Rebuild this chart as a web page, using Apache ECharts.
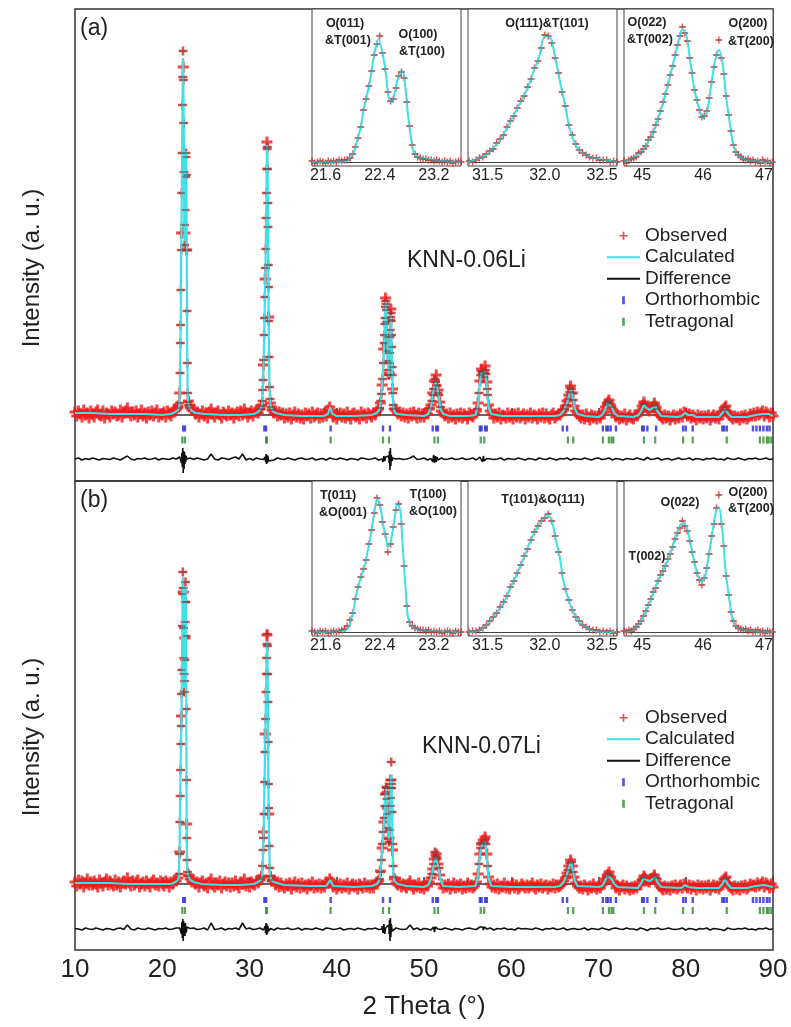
<!DOCTYPE html>
<html><head><meta charset="utf-8">
<script src="https://cdn.jsdelivr.net/npm/echarts@6/dist/echarts.min.js"></script>
<style>html,body{margin:0;padding:0;background:#fff}#c{width:791px;height:1027px}</style>
</head><body><div id="c"></div>
<script>
// ================= DATA =================
const xTickValues = [10,20,30,40,50,60,70,80,90];
// observed scan: regular 2theta grid (start, step) + extra read points on strong peaks
const OBS_START = 10, OBS_STEP = 0.2;
const obsA = [
3,-1,4,1,-2,5,0,2,-3,4, 1,-2,3,5,0,-1,4,-3,2,1, -2,4,1,3,-1,0,5,-2,2,4, 7,2,-1,3,0,4,-2,1,5,-1,
2,-3,3,0,4,-1,2,5,-2,1, 0,3,-2,4,1,-1,3,6,5,9, 22,182,348,182,165,14,9,5,6,1, 3,-2,1,4,-1,2,-3,3,6,1,
-2,2,4,0,-3,3,1,-1,4,0, 2,-3,1,3,-1,4,0,6,2,-2, 1,4,-1,3,5,2,6,10,50,136, 273,98,12,5,2,4,-1,3,0,2,
-3,1,-2,2,-4,0,3,-2,1,-3, 0,-4,2,-1,1,-3,3,-2,0,2, -3,1,-2,2,-1,5,8,4,-2,1, -4,0,2,-2,1,-3,3,-1,-4,1,
2,-2,0,-4,3,-1,1,-3,2,0, -2,2,0,4,6,12,30,66,117,70, 42,106,26,6,4,1,3,-1,2,-2, 1,-3,2,-1,3,0,-3,2,-2,1,
-2,2,1,6,10,22,34,40,25,13, 4,2,-1,1,-3,2,-2,0,-4,1, -2,2,-3,1,-1,-4,2,0,-2,1, 4,12,34,46,42,49,33,10,4,1,
-3,1,-2,2,-4,0,-1,-3,2,-2, 0,-4,1,-2,2,-3,-1,1,-4,0, -2,2,-3,0,-1,-4,1,-2,2,-3, 1,-2,-4,0,2,-3,-1,1,0,3,
5,9,14,20,29,22,9,4,2,-1, -3,0,-4,1,-2,-5,0,-3,-1,-4, -1,-3,1,3,8,12,15,10,6,3, -2,0,-4,-1,-3,1,-5,-2,0,-3,
-4,0,-1,2,4,9,13,8,6,4, 7,8,12,8,3,0,-2,-4,0,-3, -1,-5,-2,0,-4,-1,-3,1,-2,3, 2,-1,1,-3,0,-2,-5,0,-3,-1,
-4,-1,-3,0,-5,-2,0,-3,-1,-4, 0,3,7,9,3,0,-2,-4,-1,-3, -2,-5,-1,-3,0,-4,-2,1,-1,2, -1,3,0,2,4,-1,3,1,-2,2,
-1];
const obsPeaksA = [
[21.9,7],[21.96,12],[22.04,42],[22.08,72],[22.1,90],[22.14,125],[22.18,165],[22.24,222],[22.28,262],[22.32,310],[22.36,338],[22.38,364],[22.42,335],[22.46,292],[22.5,243],[22.54,190],[22.56,170],[22.62,205],[22.66,238],[22.7,258],[22.72,262],[22.76,240],[22.8,165],[22.84,104],[22.88,52],[22.92,22],[22.96,13],[23.04,10],[23.1,7],
[31.3,6],[31.36,9],[31.46,14],[31.52,25],[31.56,35],[31.62,55],[31.68,80],[31.72,97],[31.76,118],[31.82,147],[31.86,166],[31.9,197],[31.94,222],[31.97,246],[32.02,266],[32.04,268],[32.07,246],[32.1,212],[32.12,188],[32.15,150],[32.17,128],[32.2,94],[32.24,58],[32.3,28],[32.36,16],[32.46,8],[32.56,5],
[44.9,7],[45.04,14],[45.12,21],[45.24,36],[45.34,52],[45.44,72],[45.48,80],[45.52,91],[45.54,97],[45.58,108],[45.62,114],[45.66,111],[45.7,105],[45.74,93],[45.78,78],[45.82,64],[45.86,54],[45.9,45],[45.94,40],[45.98,40],[46.04,52],[46.06,62],[46.1,78],[46.12,85],[46.16,95],[46.18,98],[46.22,102],[46.24,94],[46.28,80],[46.3,68],[46.34,48],[46.36,40],[46.42,22],[46.48,10],[46.56,6],
[50.7,7],[50.9,14],[51.05,20],[51.1,26],[51.25,36],[51.3,33],[51.45,30],[51.5,29],[51.6,22],[51.7,20],[51.9,8],
[56.1,6],[56.3,22],[56.5,40],[56.55,44],[56.7,43],[56.85,38],[56.9,42],[57.05,45],[57.1,41],[57.25,26],[57.3,20],
[66.1,6],[66.3,10],[66.5,16],[66.7,23],[66.75,27],[66.9,26],[66.95,22],[67.1,15],
[70.9,10],[71.1,13],[71.15,14],[71.3,12],[71.5,8],[75.1,11],[75.3,11],[76.3,9],[76.5,10],[76.7,6],[84.3,5],[84.5,8],[84.7,5]];
const calcA = [
[10,2],[12,2],[14,1],[16,1],[18,1],[20,0],[21,1],[21.5,3],[21.8,5],[21.95,9],[22.02,29],[22.07,64],[22.12,102],[22.16,151],[22.22,200],[22.27,252],[22.31,302],[22.38,357],[22.44,316],[22.49,258],[22.53,188],[22.58,174],[22.64,218],[22.68,250],[22.74,264],[22.78,215],[22.81,151],[22.86,73],[22.9,29],[22.96,14],[23.1,8],[23.4,4],[23.8,2],[25,1],[27,0],[29,0],[30.5,1],[31.0,3],[31.34,7],[31.44,12],[31.5,20],[31.55,32],[31.61,50],[31.67,74],[31.73,103],[31.79,130],[31.85,160],[31.9,195],[31.95,228],[32.0,270],[32.05,265],[32.09,225],[32.13,176],[32.18,118],[32.22,70],[32.28,34],[32.34,18],[32.43,9],[32.63,4],[33,2],[34,0],[36,-1],[38.5,-1],[39.0,1],[39.25,8],[39.5,1],[40,-1],[42,-1],[44,0],[44.6,2],[44.85,5],[44.96,9],[45.07,16],[45.18,27],[45.29,43],[45.4,63],[45.5,85],[45.56,102],[45.62,113],[45.7,106],[45.76,86],[45.83,62],[45.9,44],[45.95,38],[46.02,45],[46.08,70],[46.15,93],[46.2,100],[46.26,88],[46.32,57],[46.38,33],[46.44,16],[46.52,6],[46.7,2],[47,1],[48,0],[50,-1],[50.5,1],[50.8,8],[51.0,20],[51.2,30],[51.35,33],[51.5,28],[51.7,18],[51.9,6],[52.2,1],[53,-1],[55,-1],[55.9,0],[56.2,10],[56.4,32],[56.6,42],[56.8,40],[57.0,43],[57.2,30],[57.4,8],[57.7,1],[59,-1],[62,-1],[65,-1],[65.6,0],[66.0,4],[66.4,12],[66.7,22],[66.85,25],[67.0,20],[67.3,6],[67.6,1],[68.5,-1],[70,-2],[70.4,0],[70.7,4],[71.0,11],[71.2,12],[71.5,8],[71.8,2],[72.2,-1],[74,-2],[74.6,0],[74.9,4],[75.2,10],[75.5,7],[75.9,5],[76.2,7],[76.5,9],[76.8,3],[77.2,-1],[79,-2],[79.5,-1],[79.9,2],[80.3,0],[80.8,0],[81.2,-2],[83.8,-2],[84.2,2],[84.5,6],[84.8,2],[85.2,-2],[87,-2],[88,0],[88.8,1],[89.5,1],[90,-1]];
const DIFF_START = 10, DIFF_STEP = 0.4;
const diffA = [
0,1,-1,0.5,-0.5,1,0,-1,0.5,0, -0.5,1,0,-1,1,3,0,-1,0.5,0, 1,-0.5,0,1,-1,0.5,0,-0.5,1,0, 2,-1,0,1,-0.5,1,0,-1,0,5,
0,-1,1,0.5,-0.5,1,2,0,5,-1, 0.5,-1,1,0,-0.5,1,0,-1,1,0, -0.5,1,0,-1,0.5,1,-0.5,0,1,-1, 0,0.5,-1,1,0,-0.5,1,0,-1,0.5,
0,-1,1,0.5,-0.5,0,1,-1,0,2, -1,1,0,0.5,-0.5,0,1,3,-0.5,0, 1,-1,0.5,0,-1,1,-0.5,0,1,-0.5, 0,1,-0.5,0,1,-1,2,-1,0.5,0,
-0.5,0,1,-1,0.5,0,-0.5,1,0,-1, 0.5,0,-1,1,0,-0.5,1,0,-1,0.5, 0,1,-1,0.5,0,-0.5,1,0,-1,0.5, 1,-0.5,0,1,-1,0.5,0,-1,0.5,0,
-0.5,1,0,-1,1.5,-0.5,0,1,-1,0, 0.5,-1,0,1,-0.5,0,1,-1,0.5,0, -1,0.5,0,1,-0.5,0,-1,1,0,-0.5, 1,0,-1,0.5,0,1,-0.5,0,1,-0.5,
0];
const diffSpikesA = [
[22.1,2],[22.2,-4],[22.25,6],[22.3,-8],[22.35,11],[22.4,-14],[22.45,8],[22.5,-10],[22.55,7],[22.6,-5],[22.65,4],[22.7,-3],[22.75,3],[22.85,-2],
[31.8,2],[31.85,-3],[31.9,5],[31.95,-5],[32.0,4],[32.05,-4],[32.1,3],[32.2,-2],
[45.2,2],[45.3,-3],[45.4,3],[45.5,-2],[45.95,3],[46.0,-4],[46.05,8],[46.1,-11],[46.15,11],[46.2,-7],[46.25,4],[46.35,-2],
[50.9,2],[51.0,-3],[51.1,4],[51.2,-4],[51.3,3],[51.4,-3],[51.5,2],[56.6,2],[56.7,-3],[56.8,3],[56.9,-2]];

const obsB = [
2,-2,4,0,3,-3,1,5,-1,2, -1,3,0,-3,4,1,-2,2,5,-1, 3,0,-2,4,-1,2,-3,1,3,0, 6,1,-2,3,-1,2,4,-3,0,2,
-2,3,0,-3,2,4,-1,1,-2,3, 0,-2,3,1,-3,2,0,4,3,6, 32,168,292,246,60,9,5,2,4,0, 2,-3,1,3,-2,0,-4,2,5,-1,
-3,1,-1,3,-4,0,2,-2,1,-3, 1,-2,3,-1,-4,2,0,5,-2,1, -3,2,0,-1,3,1,4,8,52,150, 249,70,7,3,4,-1,2,-3,1,-2,
-4,0,-2,1,-5,-1,2,-3,0,-4, 1,-3,-1,-5,0,-2,2,-4,-1,-3, 0,-4,-1,-3,2,1,5,2,-3,-1, -5,-2,0,-4,-1,-3,1,-5,-2,0,
-3,-1,-5,0,-2,-4,1,-3,-1,-4, -1,-4,0,2,3,13,36,62,90,76, 46,104,34,5,1,-1,2,-3,0,-2, -4,0,3,-2,-5,-1,-3,1,-4,-2,
-5,-1,-2,2,6,15,25,30,20,9, 0,-4,-1,-3,0,-5,-2,1,-4,-1, -3,0,-5,-2,-4,1,-3,-1,-4,-2, 2,10,30,40,44,47,30,7,0,-3,
-1,-4,0,-5,-2,-3,1,-4,-2,-5, -2,0,-4,-1,-5,-3,0,-2,-4,-1, -4,-2,1,-3,-5,-1,-3,0,-4,-2, -1,-5,-2,-3,0,-4,-1,-3,-2,0,
3,6,11,18,24,18,7,1,-2,-4, -2,-5,-1,-3,-6,-2,-4,0,-3,-5, -2,-4,-1,1,5,9,12,7,3,1, -4,-2,-6,-3,-1,-5,-2,-4,-6,-3,
-5,-2,-4,0,-1,4,8,5,3,2, 5,6,9,5,1,-2,-4,-6,-2,-5, -3,-6,-2,-4,-1,-5,-3,-1,-4,0, -2,-4,-1,-5,-2,-3,-6,-1,-4,-2,
-5,-2,-4,-1,-6,-3,-1,-4,-2,-5, -2,1,5,7,1,-2,-4,-6,-2,-5, -3,-6,-2,-4,-1,-5,-3,0,-2,-1, -3,1,-2,0,2,-3,1,-1,-4,0,
-3];
const obsPeaksB = [
[21.92,10],[21.98,30],[22.02,62],[22.06,88],[22.1,114],[22.14,140],[22.18,158],[22.22,190],[22.26,214],[22.3,258],[22.34,290],[22.36,312],[22.4,296],[22.44,256],[22.48,226],[22.5,210],[22.52,192],[22.54,203],[22.58,224],[22.62,262],[22.64,282],[22.66,302],[22.7,282],[22.72,248],[22.75,175],[22.78,104],[22.81,46],[22.84,24],[22.9,12],[22.98,8],
[31.3,5],[31.4,7],[31.5,18],[31.56,34],[31.6,46],[31.66,70],[31.72,102],[31.78,132],[31.84,165],[31.88,192],[31.92,210],[31.96,226],[32.0,240],[32.03,250],[32.05,238],[32.08,210],[32.1,182],[32.14,142],[32.17,100],[32.2,76],[32.26,38],[32.32,16],[32.4,8],[32.5,4],
[44.9,5],[45.02,12],[45.12,24],[45.22,40],[45.32,52],[45.44,66],[45.52,78],[45.6,90],[45.64,97],[45.68,92],[45.7,96],[45.76,85],[45.82,70],[45.88,56],[45.94,45],[46.0,42],[46.06,54],[46.12,78],[46.14,86],[46.18,96],[46.2,104],[46.24,122],[46.28,100],[46.3,96],[46.34,72],[46.4,40],[46.46,18],[46.52,7],
[50.9,10],[51.1,20],[51.25,32],[51.3,28],[51.45,27],[51.5,25],[51.7,16],[56.3,20],[56.5,36],[56.55,41],[56.7,40],[56.9,42],[57.05,45],[57.1,40],[57.3,18],
[66.3,8],[66.5,14],[66.7,21],[66.9,22],[67.1,12],[70.9,7],[71.1,10],[71.3,9],[75.1,6],[75.3,7],[76.4,8],[76.6,6],[84.4,5],[84.6,6]];
const calcB = [
[10,1],[12,1],[14,1],[16,0],[18,0],[20,0],[21,0],[21.5,2],[21.8,4],[21.9,7],[21.996,39],[22.045,81],[22.09,109],[22.14,136],[22.19,159],[22.22,185],[22.26,217],[22.29,247],[22.32,275],[22.36,307],[22.41,289],[22.45,247],[22.49,219],[22.52,196],[22.56,208],[22.61,252],[22.66,298],[22.71,275],[22.73,219],[22.77,127],[22.8,58],[22.82,32],[22.86,16],[22.93,9],[23.2,4],[23.6,2],[24.5,0],[27,-1],[29,-1],[30.5,0],[31.0,2],[31.3,4],[31.44,7],[31.55,31],[31.64,60],[31.7,92],[31.76,122],[31.82,155],[31.87,186],[31.93,215],[31.98,232],[32.02,243],[32.06,232],[32.09,197],[32.13,155],[32.16,108],[32.19,81],[32.24,46],[32.3,21],[32.37,9],[32.48,4],[32.8,2],[34,-1],[37,-2],[38.8,-2],[39.25,4],[39.6,-2],[42,-3],[44,-2],[44.6,0],[44.85,3],[44.96,8],[45.07,19],[45.18,34],[45.29,48],[45.4,60],[45.48,72],[45.56,85],[45.66,95],[45.73,92],[45.79,78],[45.86,60],[45.92,48],[45.97,44],[46.03,48],[46.1,69],[46.16,89],[46.22,106],[46.26,109],[46.32,86],[46.37,54],[46.44,25],[46.49,10],[46.6,3],[47,0],[48,-2],[50,-3],[50.5,-1],[50.8,5],[51.0,14],[51.2,22],[51.35,26],[51.5,24],[51.7,15],[51.9,4],[52.2,-2],[54,-3],[55.9,-2],[56.2,8],[56.4,28],[56.6,38],[56.8,40],[57.0,42],[57.2,28],[57.4,6],[57.7,-2],[60,-3],[65,-3],[65.6,-2],[66.0,2],[66.4,10],[66.7,19],[66.85,22],[67.0,17],[67.3,3],[67.6,-2],[70,-3],[70.4,-2],[70.7,2],[71.0,8],[71.2,9],[71.5,5],[71.8,0],[72.2,-3],[74.5,-4],[74.9,1],[75.2,6],[75.5,4],[75.9,3],[76.2,5],[76.5,7],[76.8,1],[77.2,-3],[79.5,-4],[79.9,-1],[80.3,-3],[81.2,-4],[83.8,-4],[84.2,0],[84.5,5],[84.8,0],[85.2,-4],[87,-4],[88,-2],[89,-1],[90,-3]];
const diffB = [
0.5,0,-1,1,0,-0.5,1,0,-1,0.5, 0,-1,0.5,1,-0.5,4,0,-1,1,0, -0.5,1,0,-1,0.5,0,1,-0.5,0,1, 1,0,-1,0.5,1,-0.5,0,1,-1,6,
-0.5,0,1,-1,0.5,0,1,-0.5,6,0, 1,-0.5,0,1,-1,0,0.5,-1,1,0, 0,1,-0.5,0,1,-1,0.5,0,-0.5,1, 0,-1,1,0.5,-0.5,0,1,-1,0,0.5,
-0.5,1,0,-1,0.5,0,1,-0.5,0,1, 0,-1,1,0,-0.5,0,4,-0.5,1,-1, 0.5,0,-1,1,0,-0.5,1,0,-1,0.5, 0,-1,0.5,1,0,-0.5,2,-1,0,1,
-1,0.5,0,1,-0.5,0,-1,1,0,0.5, 0,-0.5,1,0,-1,0.5,0,1,-0.5,0, 1,-1,0,0.5,-0.5,0,1,-1,0.5,0, -0.5,1,0,-1,0.5,1,0,-0.5,1,0,
0,-1,1,0,-1.5,0.5,0,1,-0.5,0, 1,0,-0.5,0,1,-1,0.5,0,-1,0.5, 0,1,-1,0.5,0,-0.5,-1.5,1,0,-0.5, 0.5,0,1,-0.5,0,-1,0.5,0,1,-0.5,
0];
const diffSpikesB = [
[22.1,3],[22.2,-5],[22.25,7],[22.3,-9],[22.35,10],[22.4,-12],[22.45,8],[22.5,-6],[22.55,5],[22.6,-7],[22.65,6],[22.7,-4],[22.8,2],
[31.8,3],[31.85,-4],[31.9,6],[31.95,-6],[32.0,5],[32.05,-5],[32.1,3],[32.2,-2],
[45.2,3],[45.3,-4],[45.4,5],[45.5,-5],[45.6,3],[45.95,4],[46.0,-5],[46.05,9],[46.1,-12],[46.15,11],[46.2,-8],[46.25,5],[46.35,-2],
[51.1,2],[51.2,-3],[51.3,2],[56.7,2],[56.8,-3],[56.9,2]];

// Bragg reflection positions (2theta)
const orthoPos = [22.4,22.6,31.7,31.9,39.3,45.3,46.1,51.0,51.4,51.6,56.4,56.6,57.0,57.2,65.9,66.4,70.5,70.9,71.1,71.4,72.0,75.0,75.2,75.6,76.6,79.7,80.0,80.8,84.2,84.4,84.7,87.7,88.1,88.5,88.9,89.3,89.6];
const tetraPos = [22.3,22.6,31.9,32.0,39.3,45.3,46.0,51.2,51.6,56.5,56.9,66.5,67.1,70.5,71.2,71.5,71.7,75.2,76.5,79.7,80.8,84.7,88.5,88.9,89.3,89.5,89.8];

// insets (observed: start, step, values; calculated: [2theta, I])
const insA1Obs = {start:21.40, step:0.04, values:[1,-1,0,1,0,-1,1,0,1,0,2,1,2, 2,4,8,15,24,35,52,63,76,91,107,118,126,109,93,70,61,63,74,86,90,84,60,36,17,8,5,4,3,3,2,2,1,2,1,0,1,0,1,-1,0,1,0]};
const insA1Calc = [[21.4,0],[21.92,1],[21.96,4],[22.02,10],[22.07,22],[22.12,35],[22.16,52],[22.22,69],[22.27,87],[22.31,104],[22.38,123],[22.44,109],[22.49,89],[22.53,65],[22.58,60],[22.64,75],[22.68,86],[22.74,91],[22.78,74],[22.81,52],[22.86,25],[22.9,10],[22.96,5],[23.11,3],[23.3,1],[23.6,0]];
const insA2Obs = {start:31.34, step:0.03, values:[1,0,2,4,5,8,11,13,19,23,27,35,41,46,54,61,66,75,83,94,101,114,127,126,119,104,89,70,56,37,27,18,12,9,7,5,4,4,2,2,2,0,1,0]};
const insA2Calc = [[31.33,0],[31.44,4],[31.5,8],[31.55,14],[31.61,22],[31.67,34],[31.73,47],[31.79,60],[31.85,74],[31.9,90],[31.95,105],[32.0,126],[32.05,124],[32.09,105],[32.13,82],[32.18,55],[32.22,32],[32.28,15],[32.34,8],[32.43,4],[32.63,0]];
const insA3Obs = {start:44.70, step:0.04, values:[1,-1,2,3,4,5,9,10,13,16,22,25,30,37,43,51,60,68,77,87,96,107,117,126,135,129,121,104,89,72,62,52,45,46,51,64,80,95,107,122,104,88,66,47,31,17,10,7,5,3,2,3,1,2,0,1,-1,2,0,1,-1,0]};
const insA3Calc = [[44.7,0],[44.85,4],[44.96,9],[45.07,17],[45.18,30],[45.29,49],[45.4,72],[45.51,99],[45.59,119],[45.66,133],[45.73,125],[45.79,100],[45.86,72],[45.95,50],[46.0,44],[46.07,52],[46.14,80],[46.21,105],[46.26,112],[46.32,99],[46.38,65],[46.44,39],[46.49,19],[46.57,7],[46.71,2],[47.15,0]];
const insB1Obs = {start:21.40, step:0.04, values:[1,0,-1,1,0,1,-1,0,1,0,1,2,3, 6,12,19,33,45,55,63,72,88,102,119,134,127,110,98,80,88,105,122,128,108,66,26,10,6,4,3,2,2,1,2,0,1,0,1,-1,0,1,0,-1,1,0,0]};
const insB1Calc = [[21.4,0],[21.9,2],[21.996,17],[22.045,35],[22.09,47],[22.14,59],[22.19,69],[22.22,80],[22.26,94],[22.29,107],[22.32,119],[22.36,133],[22.41,125],[22.45,107],[22.49,95],[22.52,85],[22.56,90],[22.61,109],[22.66,129],[22.71,119],[22.73,95],[22.77,55],[22.8,25],[22.82,14],[22.86,7],[22.93,3],[23.2,1],[23.6,0]];
const insB2Obs = {start:31.34, step:0.03, values:[0,1,1,2,4,7,11,15,19,25,30,36,45,51,59,67,76,83,92,100,106,111,114,118,111,96,80,59,43,32,22,15,11,7,5,3,2,2,0,1,0,1,-1,0]};
const insB2Calc = [[31.33,0],[31.44,2],[31.5,8],[31.55,15],[31.64,29],[31.7,44],[31.76,59],[31.82,75],[31.87,90],[31.93,104],[31.98,112],[32.02,117],[32.06,112],[32.09,95],[32.13,75],[32.16,52],[32.19,39],[32.24,22],[32.3,10],[32.37,4],[32.48,0],[32.63,0]];
const insB3Obs = {start:44.70, step:0.04, values:[1,0,2,1,3,5,8,11,16,21,27,33,40,44,51,57,61,66,73,78,85,93,99,104,111,106,101,91,80,70,59,52,47,54,64,78,96,108,124,137,108,86,56,37,20,11,6,4,3,2,3,1,2,0,1,2,0,1,-1,1,0,0]};
const insB3Calc = [[44.7,0],[44.85,2],[44.96,9],[45.07,22],[45.18,39],[45.29,55],[45.4,69],[45.48,82],[45.56,97],[45.66,109],[45.73,105],[45.79,89],[45.86,69],[45.92,55],[45.97,50],[46.03,55],[46.1,79],[46.16,102],[46.22,122],[46.26,125],[46.32,99],[46.37,62],[46.44,29],[46.49,12],[46.6,3],[47.15,0]];

const insetTicks = [[21.6,22.4,23.2],[31.5,32.0,32.5],[45,46,47]];
const insetLabels = [
 ['O(011)',345,24],['&T(001)',348,41],['O(100)',418,35],['&T(100)',422,52],['O(111)&T(101)',547,24],
 ['O(022)',647,23],['&T(002)',650,40],['O(200)',748,24],['&T(200)',751,42],
 ['T(011)',338,496],['&O(001)',343,513],['T(100)',428,495],['&O(100)',433,512],['T(101)&O(111)',543,500],
 ['O(022)',680,503],['T(002)',647,557],['O(200)',748,493],['&T(200)',751,509]];

// ================= CHART =================
const FONT = '"Liberation Sans", Arial, Helvetica, sans-serif';
const PLUS = 'path://M4,0H6V4H10V6H6V10H4V6H0V4H4Z';
const PLUS_BOLD = 'path://M3.6,0H6.4V3.6H10V6.4H6.4V10H3.6V6.4H0V3.6H3.6Z';
const RED = '#ee1c1c', CYAN = '#3fe0e6', BLUE = '#2424dc', GREEN = '#2e8b2e';
const gridPts = (s, d, vals) => vals.map((v, i) => [Math.round((s + i * d) * 1000) / 1000, v]);

function mainSeries(k, obs, peaks, calc, diff, spikes, off) {
  const bgData = gridPts(OBS_START, OBS_STEP, obs);
  const diffData = gridPts(DIFF_START, DIFF_STEP, diff).concat(spikes)
    .sort((a, b) => a[0] - b[0]).map(p => [p[0], p[1] + off.diff]);
  const ax = {xAxisIndex: k, yAxisIndex: k, silent: true, animation: false};
  return [
    Object.assign({name: 'Observed', type: 'scatter', data: bgData, symbol: PLUS_BOLD, symbolSize: 11, itemStyle: {color: RED}, z: 2}, ax),
    Object.assign({name: 'Observed', type: 'scatter', data: peaks, symbol: PLUS_BOLD, symbolSize: 9, itemStyle: {color: RED}, z: 2}, ax),
    Object.assign({name: 'Calculated', type: 'line', data: calc, showSymbol: false, lineStyle: {color: CYAN, width: 2.2}, itemStyle: {color: CYAN}, z: 3}, ax),
    Object.assign({name: 'obsMark', type: 'scatter', data: peaks, symbol: 'rect', symbolSize: [6, 1.4], itemStyle: {color: '#555'}, z: 4}, ax),
    Object.assign({name: 'Difference', type: 'line', data: diffData, showSymbol: false, lineStyle: {color: '#111', width: 1.6}, itemStyle: {color: '#111'}, z: 3}, ax),
    Object.assign({name: 'Orthorhombic', type: 'scatter', data: orthoPos.map(x => [x, off.ortho]), symbol: 'rect', symbolSize: [2.4, 6], itemStyle: {color: BLUE}, z: 3}, ax),
    Object.assign({name: 'Tetragonal', type: 'scatter', data: tetraPos.map(x => [x, off.tetra]), symbol: 'rect', symbolSize: [2.2, 7], itemStyle: {color: GREEN}, z: 3}, ax)
  ];
}
function insetSeries(k, obs, calc) {
  const obsData = gridPts(obs.start, obs.step, obs.values);
  const ax = {xAxisIndex: k, yAxisIndex: k, silent: true, animation: false};
  return [
    Object.assign({name: 'Observed', type: 'scatter', data: obsData, symbol: PLUS, symbolSize: 7, itemStyle: {color: RED}, z: 2}, ax),
    Object.assign({name: 'Calculated', type: 'line', data: calc, smooth: 0.3, showSymbol: false, lineStyle: {color: CYAN, width: 2}, itemStyle: {color: CYAN}, z: 3}, ax),
    Object.assign({name: 'obsMark', type: 'scatter', data: obsData, symbol: 'rect', symbolSize: [5, 1.3], itemStyle: {color: '#666'}, z: 4}, ax)
  ];
}

const insetBoxes = [
  {left: 312, top: 9, min: 21.4, max: 23.6, t: 0, yMin: -4, yMax: 153},
  {left: 468, top: 9, min: 31.33, max: 32.63, t: 1, yMin: -4, yMax: 153},
  {left: 624, top: 9, min: 44.7, max: 47.15, t: 2, yMin: -4, yMax: 153},
  {left: 312, top: 481, min: 21.4, max: 23.6, t: 0, yMin: -4, yMax: 151},
  {left: 468, top: 481, min: 31.33, max: 32.63, t: 1, yMin: -4, yMax: 151},
  {left: 624, top: 481, min: 44.7, max: 47.15, t: 2, yMin: -4, yMax: 151}
];

const grids = [
  {left: 75, top: 9, width: 698, height: 472, show: true, borderColor: '#333', borderWidth: 1.5},
  {left: 75, top: 481, width: 698, height: 469, show: true, borderColor: '#333', borderWidth: 1.5}
].concat(insetBoxes.map((b, i) => ({left: b.left, top: b.top, width: 149, height: i < 3 ? 157 : 155,
  show: true, borderColor: '#444', borderWidth: 1, backgroundColor: '#fff'})));

const mainX = (k, labels) => ({
  gridIndex: k, type: 'value', min: 10, max: 90, interval: 10,
  axisLine: {lineStyle: {color: '#333', width: 1.5}},
  axisTick: {inside: true, length: 7, lineStyle: {color: '#333', width: 1.5}},
  minorTick: {show: true, splitNumber: 2, length: 4, lineStyle: {color: '#333', width: 1.2}},
  splitLine: {show: false},
  axisLabel: {show: labels, fontSize: 26, color: '#222', fontFamily: FONT, margin: 7},
  name: labels ? '2 Theta (°)' : '', nameLocation: 'middle', nameGap: 44,
  nameTextStyle: {fontSize: 26, color: '#222', fontFamily: FONT}
});
const xAxes = [mainX(0, false), mainX(1, true)].concat(insetBoxes.map((b, i) => ({
  gridIndex: i + 2, type: 'value', min: b.min, max: b.max,
  axisLine: {lineStyle: {color: '#444', width: 1}}, axisTick: {show: false}, splitLine: {show: false},
  axisLabel: {customValues: insetTicks[b.t], fontSize: 16, color: '#222', fontFamily: FONT, margin: 2,
    formatter: v => b.t === 2 ? String(Math.round(v)) : v.toFixed(1)}
})));
const yAxes = [
  {gridIndex: 0, type: 'value', min: -66, max: 406, show: false},
  {gridIndex: 1, type: 'value', min: -66, max: 403, show: false}
].concat(insetBoxes.map((b, i) => ({gridIndex: i + 2, type: 'value', min: b.yMin, max: b.yMax, show: false})));

const series = []
  .concat(mainSeries(0, obsA, obsPeaksA, calcA, diffA, diffSpikesA, {diff: -44, ortho: -13.5, tetra: -25}))
  .concat(mainSeries(1, obsB, obsPeaksB, calcB, diffB, diffSpikesB, {diff: -45, ortho: -16, tetra: -26.5}))
  .concat(insetSeries(2, insA1Obs, insA1Calc)).concat(insetSeries(3, insA2Obs, insA2Calc)).concat(insetSeries(4, insA3Obs, insA3Calc))
  .concat(insetSeries(5, insB1Obs, insB1Calc)).concat(insetSeries(6, insB2Obs, insB2Calc)).concat(insetSeries(7, insB3Obs, insB3Calc));

const LINE_ICON = 'path://M0,0H30V1.6H0Z', BAR_ICON = 'path://M0,0H1V3H0Z';
const legendFor = top => ({
  left: 602, top: top, orient: 'vertical', itemWidth: 33, itemHeight: 8, itemGap: 0, selectedMode: false,
  textStyle: {fontSize: 19, color: '#222', fontFamily: FONT, lineHeight: 21.5},
  data: [{name: 'Observed', icon: PLUS}, {name: 'Calculated', icon: LINE_ICON}, {name: 'Difference', icon: LINE_ICON},
         {name: 'Orthorhombic', icon: BAR_ICON}, {name: 'Tetragonal', icon: BAR_ICON}]
});

const txt = (text, x, y, size, extra) => ({type: 'text', x: x, y: y, z: 10, silent: true,
  style: Object.assign({text: text, fontSize: size, fontFamily: FONT, fill: '#222', verticalAlign: 'middle'}, extra || {})});
const graphic = [
  txt('(a)', 80, 29, 23), txt('(b)', 80, 501, 23),
  txt('KNN-0.06Li', 407, 261, 23), txt('KNN-0.07Li', 422, 747, 23),
  Object.assign(txt('Intensity (a. u.)', 32, 268, 24, {align: 'center'}), {rotation: Math.PI / 2}),
  Object.assign(txt('Intensity (a. u.)', 32, 737, 24, {align: 'center'}), {rotation: Math.PI / 2})
].concat(insetLabels.map(l => txt(l[0], l[1], l[2], 12.5, {align: 'center', fontWeight: 'bold'})));

const chart = echarts.init(document.getElementById('c'), null, {renderer: 'canvas'});
chart.setOption({
  animation: false, backgroundColor: '#fff',
  grid: grids, xAxis: xAxes, yAxis: yAxes, series: series,
  legend: [legendFor(220), legendFor(702)],
  graphic: graphic
});
</script></body></html>
